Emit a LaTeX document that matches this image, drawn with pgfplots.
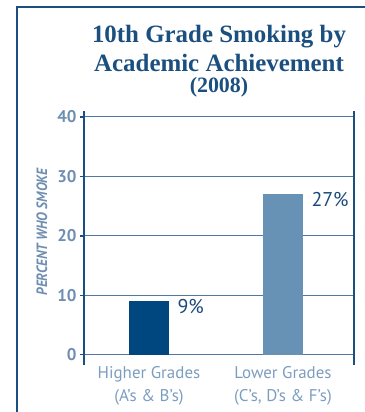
\documentclass[border=0pt]{standalone}
\usepackage{fontspec}
\setmainfont{PT Sans}
\newfontfamily\titlefont{Liberation Serif}
\usepackage{pgfplots}
\pgfplotsset{compat=1.18}
\definecolor{navy}{HTML}{00467F}
\definecolor{steel}{HTML}{6791B5}
\definecolor{framec}{HTML}{1B4F82}
\definecolor{ticklab}{HTML}{6E8FB1}
\definecolor{catlab}{HTML}{7C9DC0}
\definecolor{gridc}{HTML}{4F79A3}
\definecolor{titlec}{HTML}{1A4F80}
\definecolor{valc}{HTML}{1A4A7A}

\begin{document}
\begin{tikzpicture}[x=1bp,y=1bp]
\useasboundingbox (0,0) rectangle (365,412);
% panel frame
\draw[framec, line width=2.5bp] (17,0) -- (17,405) -- (366,405);
% title
\node[font=\titlefont\bfseries\fontsize{25}{25}\selectfont, text=titlec] at (219,375) {10th Grade Smoking by};
\node[font=\titlefont\bfseries\fontsize{25}{25}\selectfont, text=titlec] at (219,349) {Academic Achievement};
\node[font=\titlefont\bfseries\fontsize{22}{22}\selectfont, text=titlec] at (219,325) {(2008)};
\begin{axis}[
  at={(84bp,47bp)}, anchor=south west,
  scale only axis, width=270bp, height=254bp,
  xmin=-0.485, xmax=1.53, ymin=-1.7, ymax=41,
  separate axis lines,
  x axis line style={draw=none},
  y axis line style={framec, line width=1.5bp},
  ybar, bar width=40bp, bar shift=0pt,
  xtick={0,1}, xticklabels={{Higher Grades\\(A's \& B's)},{Lower Grades\\(C's, D's \& F's)}},
  xtick style={draw=none},
  xticklabel style={align=center, text=catlab, font=\fontsize{17}{23}\selectfont, yshift=6bp},
  ytick={0,10,20,30,40},
  ytick pos=left, tick align=outside, major tick length=4bp,
  ytick style={framec, line width=1.2bp},
  yticklabel style={text=ticklab, font=\fontsize{17}{17}\selectfont\bfseries},
  /pgf/number format/assume math mode=true,
  ymajorgrids, grid style={gridc, line width=1bp},
  ylabel={\scalebox{0.9}[1]{PERCENT WHO SMOKE}},
  ylabel style={at={(axis description cs:-0.156,0.524)}, anchor=center,
    text=ticklab, font=\fontsize{15}{15}\selectfont\bfseries\itshape},
  nodes near coords={\pgfmathprintnumber{\pgfplotspointmeta}\%},
  every node near coord/.append style={anchor=west, xshift=25bp, yshift=-5bp,
    text=valc, font=\fontsize{20}{20}\selectfont},
]
\addplot[fill=navy, draw=none] coordinates {(0,9)};
\addplot[fill=steel, draw=none] coordinates {(1,27)};
\end{axis}
\end{tikzpicture}
\end{document}
